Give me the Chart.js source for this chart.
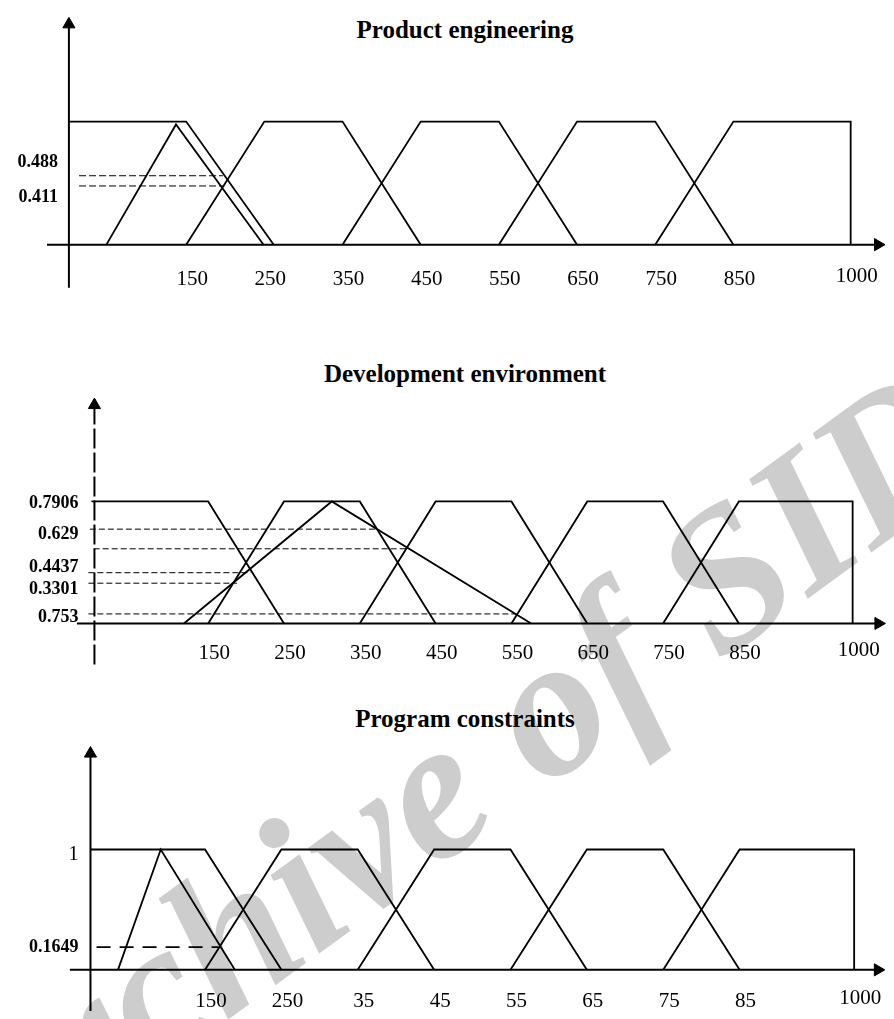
<!DOCTYPE html>
<html>
<head>
<meta charset="utf-8">
<script src="https://cdn.jsdelivr.net/npm/chart.js@4"></script>
<style>
	html, body { margin: 0; padding: 0; background: #fff; }
	body { width: 894px; height: 1019px; position: relative; overflow: hidden; font-family: "Liberation Serif", "Times New Roman", serif; }
	canvas { position: absolute; left: 0; }
	.title { position: absolute; left: 465px; transform: translateX(-50%); font-weight: bold; font-size: 25px; line-height: 25px; white-space: nowrap; }
	.mark { position: absolute; left: -17px; top: 1199px; transform-origin: 0 0; transform: rotate(-36deg) translateY(-168px);
		font-size: 200px; line-height: 1; font-weight: bold; font-style: italic; color: #cdcdcd; white-space: nowrap; }
</style>
</head>
<body>
<div class="mark">Archive of SID</div>
<div class="title" style="top:17px">Product engineering</div>
<div class="title" style="top:361px">Development environment</div>
<div class="title" style="top:706px">Program constraints</div>
<canvas id="peChart" width="894" height="300" style="top:0px"></canvas>
<canvas id="deChart" width="894" height="340" style="top:340px"></canvas>
<canvas id="pcChart" width="894" height="319" style="top:700px"></canvas>
<script>
// product engineering: breakpoints of each fuzzy set and their membership
var peSetX = [[0, 150, 262], [48, 137, 249], [150, 250, 350, 450], [350, 450, 550, 650], [550, 650, 750, 850], [750, 850, 1000, 1000]];
var peSetY = [[1, 1, 0], [0, 0.977, 0], [0, 1, 1, 0], [0, 1, 1, 0], [0, 1, 1, 0], [0, 1, 1, 0]];
var peCutY = [0.56, 0.477];
var peCutStart = [13, 13];
var peCutEnd = [197, 199];
var peTicks = [150, 250, 350, 450, 550, 650, 750, 850, 1000];
var peTickLabels = ['150', '250', '350', '450', '550', '650', '750', '850', '1000'];
var peLabelY = [0.669, 0.385];
var peLabels = ['0.488', '0.411'];

// development environment
var deSetX = [[-4, 150, 250], [118, 313, 576], [150, 250, 350, 450], [350, 450, 550, 650], [550, 650, 750, 850], [750, 850, 1000, 1000]];
var deSetY = [[1, 1, 0], [0, 1, 0], [0, 1, 1, 0], [0, 1, 1, 0], [0, 1, 1, 0], [0, 1, 1, 0]];
var deCutY = [0.773, 0.612, 0.416, 0.33, 0.078];
var deCutStart = [-6, -1, -8, -8, -8];
var deCutEnd = [370, 411, 206, 188, 556];
var deTicks = [150, 250, 350, 450, 550, 650, 750, 850, 1000];
var deTickLabels = ['150', '250', '350', '450', '550', '650', '750', '850', '1000'];
var deLabelY = [0.984, 0.734, 0.461, 0.281, 0.047];
var deLabels = ['0.7906', '0.629', '0.4437', '0.3301', '0.753'];

// program constraints
var pcSetX = [[0, 150, 250], [36, 92, 189], [150, 250, 350, 450], [350, 450, 550, 650], [550, 650, 750, 850], [750, 850, 1000, 1000]];
var pcSetY = [[1, 1, 0], [0, 1, 0], [0, 1, 1, 0], [0, 1, 1, 0], [0, 1, 1, 0], [0, 1, 1, 0]];
var pcCutY = [0.189];
var pcCutStart = [8];
var pcCutEnd = [168];
var pcTicks = [150, 250, 350, 450, 550, 650, 750, 850, 1000];
var pcTickLabels = ['150', '250', '35', '45', '55', '65', '75', '85', '1000'];
var pcLabelY = [0.953, 0.189];
var pcLabels = ['1', '0.1649'];

var serif = '"Liberation Serif", "Times New Roman", serif';

// draws the tick texts next to the axes, placed through the chart scales
var axisText = {
	id: 'axisText',
	afterDatasetsDraw: function(chart, args, opts) {
		var ctx = chart.ctx;
		var x = chart.scales.x, y = chart.scales.y;
		var x0 = x.getPixelForValue(0), y0 = y.getPixelForValue(0);
		ctx.save();
		ctx.fillStyle = '#000';
		ctx.textBaseline = 'middle';
		ctx.textAlign = 'center';
		ctx.font = '21px ' + serif;
		for (var i = 0; i < opts.ticks.length; i++) {
			var lift = opts.labels[i] == '1000' ? 3 : 0;
			ctx.fillText(opts.labels[i], x.getPixelForValue(opts.ticks[i]) + 6, y0 + opts.gap - lift);
		}
		ctx.textAlign = 'right';
		for (var j = 0; j < opts.yPos.length; j++) {
			ctx.font = (opts.yLabels[j] == '1' ? '20px ' : 'bold 18px ') + serif;
			ctx.fillText(opts.yLabels[j], x0 - opts.yGap, y.getPixelForValue(opts.yPos[j]));
		}
		ctx.restore();
	}
};

function line(points, width, dash) {
	return {
		data: points,
		showLine: true,
		borderColor: '#000',
		backgroundColor: '#000',
		borderWidth: width,
		borderDash: dash || [],
		pointRadius: 0,
		tension: 0,
		fill: false
	};
}

// axis with an arrow head at its far end
function arrowAxis(points, rotation, dash) {
	var ds = line(points, 2, dash);
	ds.pointRadius = [0, 7];
	ds.pointStyle = 'triangle';
	ds.pointRotation = rotation;
	ds.pointBackgroundColor = '#000';
	ds.pointBorderColor = '#000';
	ds.pointBorderWidth = 1;
	return ds;
}

function buildChart(id, p) {
	var datasets = [];

	for (var i = 0; i < p.setX.length; i++) {
		var pts = [];
		for (var k = 0; k < p.setX[i].length; k++) {
			pts.push({ x: p.setX[i][k], y: p.setY[i][k] });
		}
		datasets.push(line(pts, 1.8));
	}

	for (var c = 0; c < p.cutY.length; c++) {
		datasets.push(line([{ x: p.cutStart[c], y: p.cutY[c] }, { x: p.cutEnd[c], y: p.cutY[c] }], p.cutWidth, p.cutDash));
	}

	datasets.push(arrowAxis([{ x: p.axisX[0], y: 0 }, { x: p.axisX[1], y: 0 }], 90));
	datasets.push(arrowAxis([{ x: 0, y: p.axisY[0] }, { x: 0, y: p.axisY[1] }], 0, p.yDash));

	return new Chart(document.getElementById(id), {
		type: 'scatter',
		data: { datasets: datasets },
		options: {
			responsive: false,
			animation: false,
			events: [],
			layout: { padding: 0 },
			scales: {
				x: { type: 'linear', min: p.xRange[0], max: p.xRange[1], display: false },
				y: { type: 'linear', min: p.yRange[0], max: p.yRange[1], display: false }
			},
			plugins: {
				legend: { display: false },
				tooltip: { enabled: false },
				axisText: { ticks: p.ticks, labels: p.tickLabels, gap: p.gap, yPos: p.labelY, yLabels: p.labels, yGap: p.yGap }
			}
		},
		plugins: [axisText]
	});
}

buildChart('peChart', {
	setX: peSetX, setY: peSetY,
	cutY: peCutY, cutStart: peCutStart, cutEnd: peCutEnd, cutDash: [7, 3], cutWidth: 1,
	ticks: peTicks, tickLabels: peTickLabels, labelY: peLabelY, labels: peLabels,
	xRange: [-77.9, 1045.2], yRange: [-0.3846, 1.923],
	axisX: [-28, 1035], axisY: [-0.35, 1.79],
	gap: 35, yGap: 11
});

buildChart('deChart', {
	setX: deSetX, setY: deSetY,
	cutY: deCutY, cutStart: deCutStart, cutEnd: deCutEnd, cutDash: [6, 3], cutWidth: 1,
	ticks: deTicks, tickLabels: deTickLabels, labelY: deLabelY, labels: deLabels,
	xRange: [-114, 1044], yRange: [-0.398, 2.258],
	axisX: [-23, 1034], axisY: [-0.336, 1.79], yDash: [20, 4],
	gap: 30, yGap: 16
});

buildChart('pcChart', {
	setX: pcSetX, setY: pcSetY,
	cutY: pcCutY, cutStart: pcCutStart, cutEnd: pcCutEnd, cutDash: [14, 9], cutWidth: 1.6,
	ticks: pcTicks, tickLabels: pcTickLabels, labelY: pcLabelY, labels: pcLabels,
	xRange: [-108, 1041.7], yRange: [-0.342, 2.176],
	axisX: [-27, 1031], axisY: [-0.36, 1.797],
	gap: 32, yGap: 12
});
</script>
</body>
</html>
